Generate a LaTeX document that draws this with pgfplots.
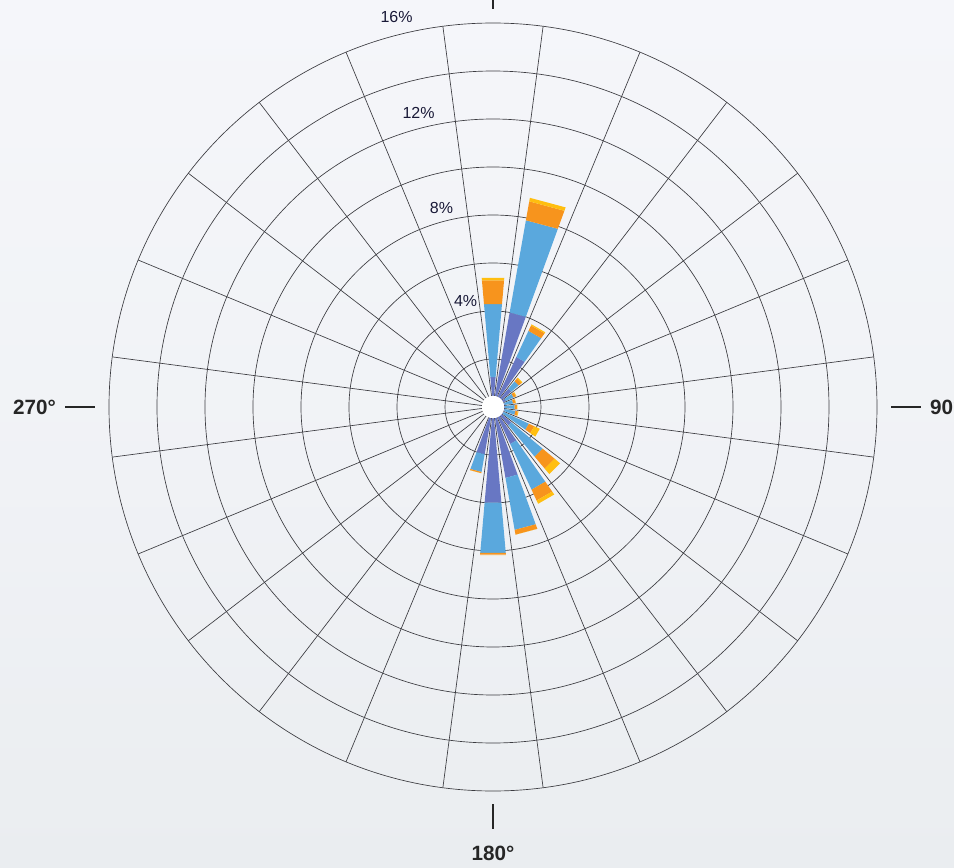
\documentclass[border=0pt]{standalone}
\usepackage{fontspec}
\setmainfont{Liberation Sans}
\usepackage{pgfplots}
\usepackage{pgfplotstable}
\pgfplotsset{compat=1.18}
\usepgfplotslibrary{polar}
\usetikzlibrary{backgrounds}
\definecolor{cA}{RGB}{104,119,195}
\definecolor{cB}{RGB}{90,168,221}
\definecolor{cC}{RGB}{247,148,29}
\definecolor{cD}{RGB}{255,190,15}
\definecolor{gridc}{RGB}{60,60,65}
\definecolor{ringlab}{RGB}{25,25,55}
\definecolor{bgtop}{RGB}{245,246,250}
\definecolor{bgbot}{RGB}{234,237,240}

% direction (deg, clockwise from north) and per-class percentages
\pgfplotstableread{
dir a b c d
0 1.25 3.05 1.00 0.10
15 4.00 3.90 0.80 0.15
30 2.30 1.20 0.25 0.05
45 1.00 0.40 0.15 0.05
60 0.60 0.35 0.10 0.03
75 0.50 0.35 0.10 0.02
90 0.50 0.40 0.10 0.02
105 0.50 0.45 0.10 0.03
120 0.50 1.15 0.25 0.25
135 1.00 1.70 0.65 0.30
150 1.70 2.10 0.50 0.15
165 3.00 2.20 0.20 0.00
180 4.00 2.10 0.07 0.00
195 2.00 0.75 0.05 0.00
}\rosedata

\newcommand\roseseg[4]{%
  \pgfmathsetmacro\aL{90-#2-5}%
  \pgfmathsetmacro\aR{90-#2+5}%
  \edef\tmp{\noexpand\addplot[fill=#1,draw=none,forget plot] coordinates {(\aL,#3) (\aL,#4) (\aR,#4) (\aR,#3)} -- cycle;}%
  \tmp}

\begin{document}
\begin{tikzpicture}
\begin{polaraxis}[
  scale only axis, width=576pt, height=576pt,
  xmin=0, xmax=360, ymin=0, ymax=16,
  xtick={7.5,22.5,37.5,52.5,67.5,82.5,97.5,112.5,127.5,142.5,157.5,172.5,187.5,202.5,217.5,232.5,247.5,262.5,277.5,292.5,307.5,322.5,337.5,352.5},
  xticklabels={},
  ytick={2,4,6,8,10,12,14},
  yticklabels={},
  grid=major,
  major grid style={line width=0.5pt, draw=gridc},
  separate axis lines,
  x axis line style={line width=0.5pt, draw=gridc},
  y axis line style={draw=none},
  major tick length=0pt,
  clip=false,
]
\pgfplotsinvokeforeach{0,...,13}{%
  \pgfplotstablegetelem{#1}{dir}\of\rosedata \edef\dd{\pgfplotsretval}%
  \pgfplotstablegetelem{#1}{a}\of\rosedata \pgfmathsetmacro\ra{\pgfplotsretval}%
  \pgfplotstablegetelem{#1}{b}\of\rosedata \pgfmathsetmacro\rb{\ra+\pgfplotsretval}%
  \pgfplotstablegetelem{#1}{c}\of\rosedata \pgfmathsetmacro\rc{\rb+\pgfplotsretval}%
  \pgfplotstablegetelem{#1}{d}\of\rosedata \pgfmathsetmacro\rd{\rc+\pgfplotsretval}%
  \roseseg{cA}{\dd}{0}{\ra}%
  \roseseg{cB}{\dd}{\ra}{\rb}%
  \roseseg{cC}{\dd}{\rb}{\rc}%
  \roseseg{cD}{\dd}{\rc}{\rd}%
}
\fill[white] (axis cs:0,0) circle[radius=8.5pt];
% angle ticks
\draw[line width=1.5pt, black!85] (axis cs:90,16.6) -- (axis cs:90,17.85);
\draw[line width=1.5pt, black!85] (axis cs:0,16.6) -- (axis cs:0,17.85);
\draw[line width=1.5pt, black!85] (axis cs:270,16.55) -- (axis cs:270,17.6);
\draw[line width=1.5pt, black!85] (axis cs:180,16.6) -- (axis cs:180,17.85);
\node[anchor=west, inner sep=0pt, font=\fontsize{15.5}{18}\selectfont\bfseries, black!85] at (axis cs:0,18.2) {90°};
\node[anchor=east, inner sep=0pt, font=\fontsize{15.5}{18}\selectfont\bfseries, black!85] at (axis cs:180,18.2) {270°};
\node[anchor=north, inner sep=0pt, font=\fontsize{15.5}{18}\selectfont\bfseries, black!85] at (axis cs:270,18.3) {180°};
% ring labels
\node[ringlab, font=\fontsize{12}{14}\selectfont] at (axis cs:104.5,4.56) {4\%};
\node[ringlab, font=\fontsize{12}{14}\selectfont] at (axis cs:104.5,8.58) {8\%};
\node[ringlab, font=\fontsize{12}{14}\selectfont] at (axis cs:104.2,12.65) {12\%};
\node[ringlab, font=\fontsize{12}{14}\selectfont] at (axis cs:103.9,16.72) {16\%};
\coordinate (O) at (axis cs:0,0);
\end{polaraxis}
\begin{scope}[on background layer]
\shade[top color=bgtop, bottom color=bgbot, middle color=bgtop!60!bgbot] ([shift={(-369.75pt,-345.75pt)}]O) rectangle ([shift={(345.75pt,305.25pt)}]O);
\end{scope}
\pgfresetboundingbox
\path[use as bounding box] ([shift={(-369.75pt,-345.75pt)}]O) rectangle ([shift={(345.75pt,305.25pt)}]O);
\end{tikzpicture}
\end{document}
